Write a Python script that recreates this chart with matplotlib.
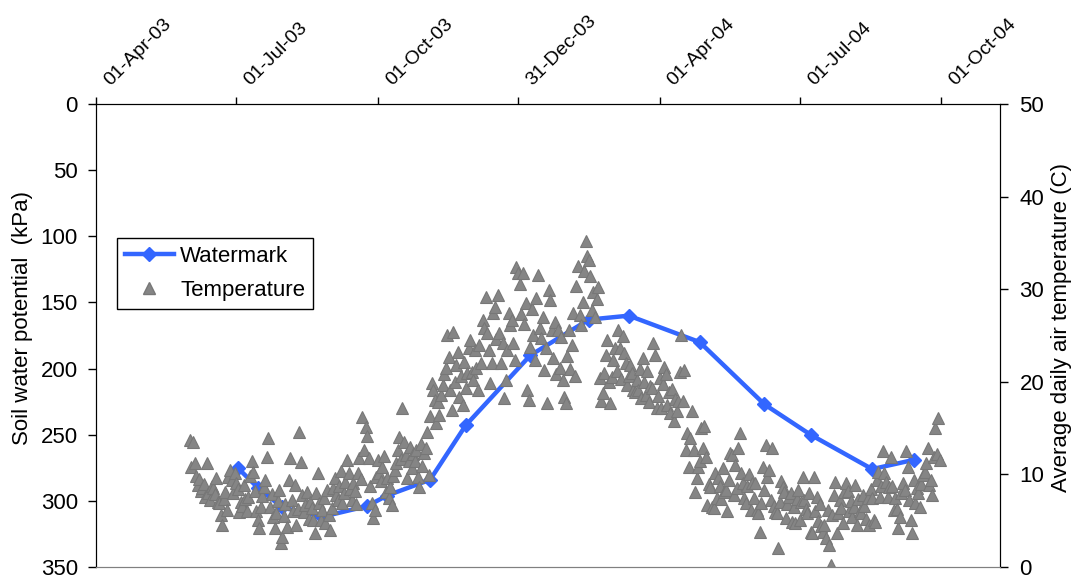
import datetime as dt

import matplotlib
matplotlib.use("Agg")
import matplotlib.pyplot as plt
import matplotlib.dates as mdates
from matplotlib.lines import Line2D
from matplotlib.transforms import ScaledTranslation

plt.rcParams["font.family"] = ["Liberation Sans", "DejaVu Sans"]
plt.rcParams["font.size"] = 16

# Watermark sensor readings (soil water potential, kPa)
wm_dates = ["2003-07-02", "2003-07-15", "2003-07-31", "2003-08-26", "2003-09-24",
            "2003-10-07", "2003-11-04", "2003-11-27", "2004-01-08", "2004-02-15",
            "2004-03-12", "2004-04-27", "2004-06-08", "2004-07-08", "2004-08-17",
            "2004-09-13"]
wm_kpa = [275, 290, 305, 312, 304, 296, 284, 243, 190, 163, 160, 180, 227, 250, 276, 269]

# Average daily air temperature (C), one value per day from 1 Jun 2003
temp_start = "2003-06-01"
temp_jun03 = [13.7, 10.8, 13.5, 11.2, 9.8, 8.9, 9.5, 8.2, 8.5, 9.0, 7.6, 11.2, 8.0, 7.2, 8.8,
              8.5, 7.9, 9.6, 7.0, 6.9, 5.6, 4.5, 7.3, 8.1, 6.2, 9.7, 10.5, 9.4, 8.0, 10.2]
temp_jul03 = [9.1, 8.4, 5.9, 7.0, 6.6, 8.9, 7.3, 6.1, 7.6, 9.8, 11.4, 10.3, 8.2, 6.0, 5.1, 4.2,
              6.5, 7.7, 8.6, 9.4, 11.9, 13.9, 6.5, 7.9, 5.4, 4.2, 5.8, 7.1, 8.3, 2.6, 3.2]
temp_aug03 = [5.5, 6.8, 4.3, 9.4, 11.8, 7.2, 6.0, 8.9, 4.5, 6.3, 14.6, 11.3, 7.8, 5.9, 6.7, 8.1,
              5.2, 7.0, 6.4, 5.1, 3.7, 8.0, 10.1, 6.9, 5.1, 6.2, 7.5, 4.8, 8.3, 5.6, 4.0]
temp_sep03 = [6.4, 8.5, 9.6, 7.8, 7.2, 8.7, 10.4, 6.9, 8.0, 9.2, 11.6, 10.1, 8.4, 7.2, 9.1,
              8.2, 6.8, 10.1, 11.8, 9.5, 16.2, 12.6, 15.1, 14.1, 11.8, 8.8, 6.9, 5.3, 6.2, 9.7]
temp_oct03 = [11.6, 10.2, 9.3, 10.8, 12.0, 8.1, 9.6, 7.4, 8.6, 6.7, 9.8, 10.5, 11.2, 12.6, 14.0,
              11.7, 17.2, 13.5, 12.1, 9.6, 11.4, 13.0, 10.7, 12.2, 11.5, 12.6, 9.7, 8.6, 13.3,
              10.9, 12.3]
temp_nov03 = [12.8, 14.6, 9.9, 16.3, 19.9, 19.1, 18.0, 15.5, 17.8, 16.4, 18.6, 19.7, 20.8, 21.5,
              25.1, 22.7, 19.1, 17.0, 25.4, 20.0, 21.8, 23.2, 18.4, 20.6, 17.5, 22.1, 19.3, 21.0,
              23.6, 24.5]
temp_dec03 = [21.1, 20.2, 23.4, 21.5, 19.1, 24.0, 22.0, 26.7, 25.8, 29.2, 25.3, 23.4, 19.9, 22.0,
              27.4, 28.1, 24.6, 29.4, 25.3, 22.0, 24.2, 18.3, 20.2, 23.4, 27.4, 26.1, 26.7, 24.2,
              22.4, 32.4, 31.7]
temp_jan04 = [30.6, 27.3, 31.7, 26.2, 28.5, 19.1, 18.0, 23.8, 27.9, 25.1, 22.4, 29.0, 31.5, 25.8,
              24.7, 27.0, 21.3, 23.6, 17.7, 29.9, 28.8, 25.6, 22.6, 26.5, 20.8, 25.6, 21.5, 24.8,
              20.2, 18.4, 17.7]
temp_feb04 = [22.8, 25.6, 21.4, 24.0, 27.4, 20.6, 30.3, 32.5, 27.2, 26.1, 28.6, 32.0, 35.2, 33.6,
              33.2, 31.4, 27.7, 29.7, 27.0, 28.9, 30.2, 20.4, 17.9, 18.8, 20.9, 22.9, 24.5, 20.0,
              17.7]
temp_mar04 = [20.5, 22.4, 23.6, 21.2, 25.6, 23.6, 20.3, 24.9, 23.1, 22.0, 19.7, 20.6, 21.8, 20.9,
              19.1, 18.9, 20.2, 19.1, 21.4, 18.2, 22.6, 20.0, 18.6, 21.2, 17.8, 19.6, 19.3, 24.2,
              22.9, 17.2, 18.5]
temp_apr04 = [20.4, 17.2, 19.8, 21.6, 20.8, 17.5, 18.9, 16.6, 19.2, 15.8, 18.1, 16.9, 17.9, 21.1,
              25.1, 17.9, 21.3, 12.6, 14.5, 10.8, 13.9, 16.8, 12.6, 8.1, 9.6, 10.8, 11.5, 15.0,
              12.9, 15.2]
temp_may04 = [11.9, 6.7, 9.0, 8.6, 6.5, 6.4, 10.1, 7.5, 9.6, 8.8, 7.3, 10.7, 8.1, 8.3, 6.0, 9.4,
              12.3, 12.1, 7.8, 11.0, 8.5, 12.9, 14.5, 10.2, 9.1, 7.4, 6.9, 8.7, 10.0, 6.2, 9.1]
temp_jun04 = [7.5, 9.1, 6.2, 5.8, 3.8, 6.9, 10.8, 8.3, 13.2, 9.7, 10.5, 7.2, 12.9, 6.6, 5.9, 5.8,
              2.1, 7.0, 9.3, 8.6, 8.1, 5.3, 6.8, 7.6, 8.0, 4.9, 6.5, 4.8, 7.3, 8.3]
temp_jul04 = [5.1, 7.0, 9.7, 7.2, 6.3, 5.8, 8.0, 3.8, 3.7, 9.7, 6.1, 7.6, 5.0, 6.8, 4.4, 3.8, 4.5,
              3.1, 6.2, 2.4, 0.2, 5.6, 7.8, 9.2, 3.7, 5.8, 7.2, 6.4, 4.8, 8.1, 9.1]
temp_aug04 = [8.2, 6.0, 7.1, 5.4, 6.5, 8.9, 4.5, 7.3, 6.1, 5.8, 7.8, 6.6, 5.2, 7.5, 4.5, 8.4, 7.5,
              5.1, 4.9, 9.4, 10.3, 7.6, 8.8, 12.5, 10.1, 9.2, 7.6, 8.6, 11.9, 8.7, 6.2]
temp_sep04 = [7.4, 6.3, 4.2, 5.4, 8.0, 9.1, 8.3, 12.5, 10.8, 7.2, 5.1, 3.7, 9.4, 6.9, 8.5, 8.0,
              6.5, 9.0, 9.9, 10.3, 11.2, 12.9, 8.9, 9.4, 7.8, 11.9, 15.0, 12.2, 16.1, 11.6]

tick_dates = ["2003-04-01", "2003-07-01", "2003-10-01", "2003-12-31",
              "2004-04-01", "2004-07-01", "2004-10-01"]
x_range = ["2003-04-01", "2004-11-08"]


def to_date(s):
    return dt.datetime.strptime(s, "%Y-%m-%d")


temp_c = (temp_jun03 + temp_jul03 + temp_aug03 + temp_sep03 + temp_oct03 + temp_nov03
          + temp_dec03 + temp_jan04 + temp_feb04 + temp_mar04 + temp_apr04 + temp_may04
          + temp_jun04 + temp_jul04 + temp_aug04 + temp_sep04)
t0 = to_date(temp_start)
temp_dates = [t0 + dt.timedelta(days=i) for i in range(len(temp_c))]

BLUE = "#3366FF"
GREY = "#858585"

fig = plt.figure(figsize=(10.77, 5.77), dpi=100)
ax = fig.add_axes([96 / 1077, 1 - 567 / 577, 904 / 1077, 463 / 577])
ax2 = ax.twinx()

ax.plot([to_date(d) for d in wm_dates], wm_kpa, color=BLUE, lw=3.2, marker="D",
        markersize=7, markeredgecolor=BLUE, zorder=3)
ax2.plot(temp_dates, temp_c, linestyle="none", marker="^", markersize=8,
         color=GREY, markeredgecolor="#777777", markeredgewidth=0.8)

# axes ranges
ax.set_xlim(to_date(x_range[0]), to_date(x_range[1]))
ax.set_ylim(350, 0)
ax.set_yticks(range(0, 351, 50))
ax2.set_ylim(0, 50)
ax2.set_yticks(range(0, 51, 10))

# date axis on top, labels at 45 degrees
ax.xaxis.tick_top()
ax.set_xticks([to_date(d) for d in tick_dates])
ax.xaxis.set_major_formatter(mdates.DateFormatter("%d-%b-%y"))
ax.tick_params(axis="x", direction="out", length=5, width=1, pad=6, colors="black",
               labelsize=14)
offset = ScaledTranslation(17 / 100, 0, fig.dpi_scale_trans)
for lab in ax.get_xticklabels():
    lab.set_rotation(45)
    lab.set_rotation_mode("anchor")
    lab.set_ha("left")
    lab.set_va("bottom")
    lab.set_transform(lab.get_transform() + offset)

ax.tick_params(axis="y", direction="out", length=6, width=1, pad=7)
ax2.tick_params(axis="y", direction="out", length=6, width=1, pad=8)

for a in (ax, ax2):
    a.spines["bottom"].set_color("#808080")
    a.spines["top"].set_color("black")
    a.spines["left"].set_color("black")
    a.spines["right"].set_color("black")

ax.set_ylabel("Soil water potential  (kPa)")
ax.yaxis.set_label_coords((33 - 96) / 904, (567 - 318) / 463)
ax2.set_ylabel("Average daily air temperature (C)")
ax2.yaxis.set_label_coords((1051 - 96) / 904, (567 - 328) / 463)

handles = [
    Line2D([], [], color=BLUE, lw=3.2, marker="D", markersize=7),
    Line2D([], [], linestyle="none", marker="^", markersize=8, color=GREY,
           markeredgecolor="#777777"),
]
leg = ax2.legend(handles, ["Watermark", "Temperature"], loc="upper left",
                 bbox_to_anchor=((117 - 96) / 904, (567 - 238) / 463), borderaxespad=0,
                 frameon=True, fancybox=False, edgecolor="black", framealpha=1,
                 handlelength=2.2, handletextpad=0.3, labelspacing=0.6, borderpad=0.35,
                 fontsize=16)
leg.get_frame().set_linewidth(1)

fig.savefig("out.png", dpi=100)
